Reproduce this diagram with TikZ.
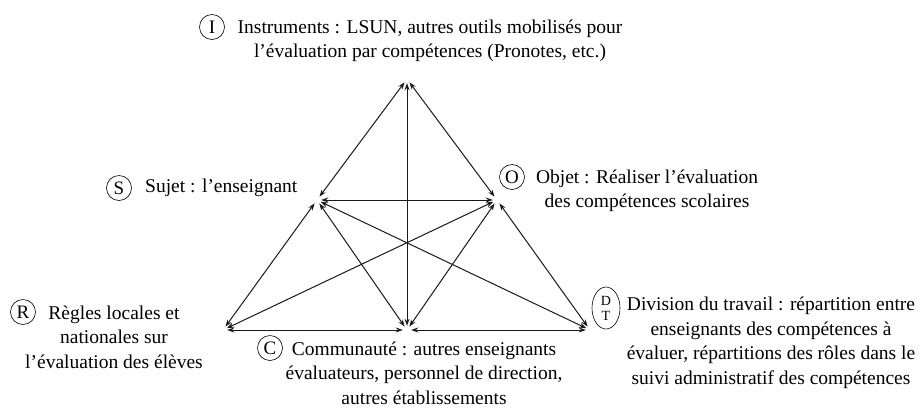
\documentclass[tikz,border=0pt]{standalone}
\usepackage{fontspec}
\setmainfont{Liberation Serif}
\usetikzlibrary{arrows.meta,shapes.geometric}
\begin{document}
\begin{tikzpicture}[x=1pt,y=-1pt,
  vtx/.style={circle,inner sep=0pt,minimum size=8pt},
  link/.style={{Stealth[length=7pt,width=5pt]}-{Stealth[length=7pt,width=5pt]},line width=1pt,black!90},
  lett/.style={circle,draw,line width=0.6pt,inner sep=0pt,minimum size=25pt,font=\fontsize{19}{19}\selectfont},
  lbl/.style={align=center,inner sep=0pt,font=\fontsize{19.5}{24.5}\selectfont}]
\useasboundingbox (0,0) rectangle (923,408);
% vertices
\node[vtx] (I) at (407,79) {};
\node[vtx] (S) at (317,200) {};
\node[vtx] (O) at (497,200) {};
\node[vtx] (R) at (223,330) {};
\node[vtx] (C) at (407,330) {};
\node[vtx] (D) at (590,330) {};
% connectors
\draw[link] (I) -- (S);
\draw[link] (I) -- (O);
\draw[link] (I) -- (C);
\draw[link] (S) -- (O);
\draw[link] (S) -- (R);
\draw[link] (S) -- (C);
\draw[link] (S) -- (D);
\draw[link] (O) -- (R);
\draw[link] (O) -- (C);
\draw[link] (O) -- (D);
\draw[link] (R) -- (C);
\draw[link] (C) -- (D);
% labels
\node[lett] (cI) at (212,27) {I};
\node[lbl] (tI) at (430,41) {Instruments : LSUN, autres outils mobilisés pour\\l’évaluation par compétences (Pronotes, etc.)};
\node[lett] (cS) at (119,188) {S};
\node[lbl,anchor=west] (tS) at (145,188) {Sujet : l’enseignant};
\node[lett] (cO) at (512,177) {O};
\node[lbl] (tO) at (647,191) {Objet : Réaliser l’évaluation\\des compétences scolaires};
\node[lett] (cR) at (23,312) {R};
\node[lbl] (tR) at (114,337) {Règles locales et\\nationales sur\\l’évaluation des élèves};
\node[lett] (cC) at (270,348) {C};
\node[lbl] (tC) at (424,373) {Communauté : autres enseignants\\évaluateurs, personnel de direction,\\autres établissements};
\node[ellipse,draw,line width=0.6pt,inner sep=0pt,minimum width=28pt,minimum height=42pt,align=center,font=\fontsize{14}{15}\selectfont] (cD) at (606,308) {D\\T};
\node[lbl] (tD) at (771,343) {Division du travail : répartition entre\\enseignants des compétences à\\évaluer, répartitions des rôles dans le\\suivi administratif des compétences};
\end{tikzpicture}
\end{document}
